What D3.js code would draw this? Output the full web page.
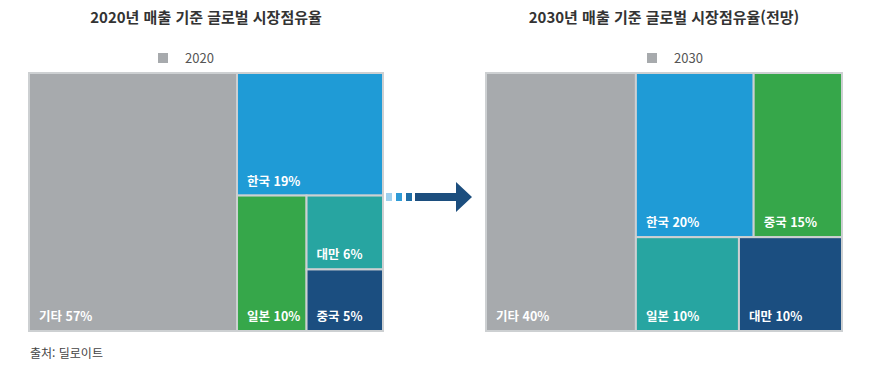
<!DOCTYPE html>
<html lang="ko">
<head>
<meta charset="utf-8">
<script src="https://cdn.jsdelivr.net/npm/d3@7"></script>
<style>
  body { margin: 0; background: #fff; }
  text { font-family: "Noto Sans CJK KR", "Noto Sans", sans-serif; }
</style>
</head>
<body>
<svg id="chart" width="870" height="368"></svg>
<script>
// 국가별 시장점유율 (%)
const countries2020 = ["기타", "한국", "일본", "대만", "중국"];
const share2020 = [57, 19, 10, 6, 5];
const countries2030 = ["기타", "한국", "중국", "일본", "대만"];
const share2030 = [40, 20, 15, 10, 10];

const colors = {
  "기타": "#a7aaad",
  "한국": "#1f9bd6",
  "일본": "#36a74a",
  "대만": "#27a5a1",
  "중국": "#1b4e80"
};
// 2030년은 색상 배치가 다름
const colors2030 = {
  "기타": "#a7aaad",
  "한국": "#1f9bd6",
  "중국": "#36a74a",
  "일본": "#27a5a1",
  "대만": "#1b4e80"
};

const svg = d3.select("#chart");

function drawTreemap(opts) {
  const g = svg.append("g").attr("transform", `translate(${opts.x},${opts.y})`);

  const root = d3.hierarchy({
    children: opts.names.map((n, i) => ({ name: n, value: opts.values[i] }))
  }).sum(d => d.value || 0);

  d3.treemap()
    .tile(d3.treemapSquarify.ratio(1))
    .size([opts.w, opts.h])(root);

  const cell = g.selectAll("g.cell")
    .data(root.leaves())
    .enter()
    .append("g")
    .attr("class", "cell");

  cell.append("rect")
    .attr("x", d => d.x0)
    .attr("y", d => d.y0)
    .attr("width", d => d.x1 - d.x0)
    .attr("height", d => d.y1 - d.y0)
    .style("fill", d => opts.colors[d.data.name])
    .style("stroke", "#cdd0d2")
    .style("stroke-width", 2);

  cell.append("text")
    .attr("x", d => d.x0 + 10)
    .attr("y", d => d.y1 - 10)
    .style("fill", "#fff")
    .style("font-size", "12.5px")
    .style("font-weight", "bold")
    .text(d => `${d.data.name} ${d.data.value}%`);

  // 제목
  svg.append("text")
    .attr("x", opts.x + opts.w / 2)
    .attr("y", 23)
    .attr("text-anchor", "middle")
    .style("font-size", "15px")
    .style("font-weight", "bold")
    .style("fill", "#333")
    .text(opts.title);

  // 범례
  svg.append("rect")
    .attr("x", opts.legendX)
    .attr("y", 53)
    .attr("width", 10)
    .attr("height", 10)
    .style("fill", "#a7aaad");
  svg.append("text")
    .attr("x", opts.legendX + 27)
    .attr("y", 62.5)
    .style("font-size", "13px")
    .style("fill", "#555")
    .text(opts.legend);
}

drawTreemap({
  x: 29, y: 73, w: 354, h: 258,
  names: countries2020, values: share2020, colors: colors,
  title: "2020년 매출 기준 글로벌 시장점유율",
  legend: "2020", legendX: 158
});

drawTreemap({
  x: 486, y: 73, w: 356, h: 258,
  names: countries2030, values: share2030, colors: colors2030,
  title: "2030년 매출 기준 글로벌 시장점유율(전망)",
  legend: "2030", legendX: 647
});

// 화살표
const arrow = svg.append("g");
const dots = ["#9fd0ee", "#2f9bd6", "#1f6ea6"];
arrow.selectAll("rect.dot")
  .data(dots)
  .enter()
  .append("rect")
  .attr("class", "dot")
  .attr("x", (d, i) => 386 + i * 10)
  .attr("y", 193)
  .attr("width", 6)
  .attr("height", 8)
  .style("fill", d => d);
arrow.append("path")
  .attr("d", "M415,193 L456,193 L456,182 L472,197 L456,212 L456,201 L415,201 Z")
  .style("fill", "#1c4e7e");

// 출처
svg.append("text")
  .attr("x", 30)
  .attr("y", 358)
  .style("font-size", "12px")
  .style("fill", "#444")
  .text("출처: 딜로이트");
</script>
</body>
</html>
